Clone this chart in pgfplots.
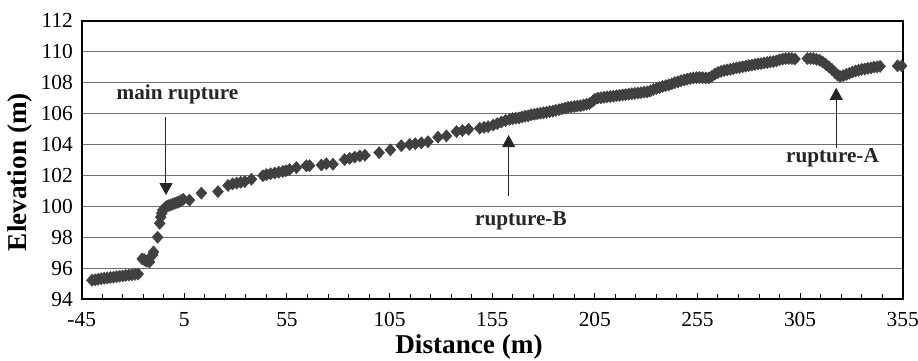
\documentclass[border=0pt]{standalone}
\usepackage{pgfplots}
\pgfplotsset{compat=1.18}
\usepackage{fontspec}
\setmainfont{Liberation Serif}
\usetikzlibrary{arrows.meta}
\definecolor{markgray}{HTML}{404040}
\definecolor{gridgray}{HTML}{707070}
\begin{document}
\begin{tikzpicture}
\begin{axis}[
  scale only axis,
  width=410.5pt, height=139.2pt,
  xmin=-45, xmax=355, ymin=94, ymax=112,
  xtick={-45,5,55,105,155,205,255,305,355},
  minor x tick num=4,
  ytick={94,96,...,112},
  tick align=inside,
  xtick pos=bottom,
  major tick length=3pt, minor tick length=2.5pt,
  ytick style={draw=none},
  xtick style={black, line width=0.5pt},
  ymajorgrids,
  major grid style={gridgray, line width=0.6pt},
  axis line style={black, line width=0.8pt},
  /pgf/number format/assume math mode=true,
  tick label style={font=\fontsize{10.7}{12}\selectfont},
  yticklabel style={inner sep=0pt, xshift=-4.2pt},
  xticklabel style={inner sep=0pt, yshift=-6.5pt},
  xlabel={Distance (m)},
  ylabel={Elevation (m)},
  label style={font=\fontsize{13.6}{16}\selectfont\bfseries},
  xlabel style={at={(axis description cs:0.4717,-0.126)}, anchor=north, inner sep=0pt},
  ylabel style={at={(axis description cs:-0.0752,0.456)}, anchor=center, inner sep=0pt},
  clip=false,
]
\addplot[only marks, mark=diamond*, mark size=3.05pt,
  mark options={xscale=1.2, fill=markgray, draw=markgray, line width=0.2pt}] table {
x y
-40 95.22
-38.5 95.25
-37 95.28
-35.5 95.32
-34 95.35
-32.5 95.37
-31 95.40
-29.5 95.42
-28 95.45
-26.5 95.48
-25 95.50
-23.5 95.53
-22 95.55
-20.5 95.58
-19 95.60
-17.5 95.62
-15.5 96.60
-14.5 96.55
-13.5 96.45
-12 96.40
-10.5 96.85
-10 97.05
-8 98.00
-7 98.90
-6.5 99.30
-6 99.55
-5.5 99.75
-4.5 99.90
-3.5 100.00
-2.5 100.05
-1.5 100.10
-0.5 100.15
0.5 100.20
1.5 100.25
2.5 100.30
3.5 100.38
4.5 100.45
7.5 100.40
13.3 100.85
21.4 100.95
26.3 101.35
28.5 101.45
30.5 101.50
32.5 101.55
34.5 101.60
37.7 101.75
43.3 101.98
45 102.05
47 102.10
49 102.15
51 102.20
53 102.25
54.5 102.30
56.3 102.38
59.6 102.50
64.4 102.62
66 102.63
71.8 102.67
74.2 102.75
77.4 102.72
83.1 103.02
85.6 103.10
88 103.18
90.5 103.25
93 103.30
99.9 103.47
105.4 103.65
110.7 103.92
114.8 104.00
117.5 104.05
120.5 104.10
123.7 104.18
128.6 104.47
132.7 104.55
137.6 104.83
140.5 104.90
143.5 104.98
148.9 105.05
151 105.10
153 105.15
155.5 105.25
157.5 105.35
159.5 105.45
161.5 105.55
163.5 105.62
165 105.67
166.5 105.70
168 105.72
169.5 105.78
171 105.82
172.5 105.85
174 105.92
175.5 105.95
177 105.98
178.5 106.02
180 106.05
181.5 106.08
183 106.12
184.5 106.15
186 106.20
187.5 106.25
189 106.30
190.5 106.35
192 106.40
193.5 106.42
195 106.45
196.5 106.48
198 106.50
199.5 106.55
201 106.60
202.5 106.65
204 106.80
205 106.92
206.5 107.00
208 107.02
209.5 107.05
211 107.08
212.5 107.10
214 107.12
215.5 107.15
217 107.17
218.5 107.20
220 107.22
221.5 107.25
223 107.28
224.5 107.30
226 107.32
227.5 107.35
229 107.38
230.5 107.40
232 107.45
233.5 107.55
235 107.62
236.5 107.68
238 107.75
239.5 107.80
241 107.85
242.5 107.92
244 108.00
245.5 108.05
247 108.12
248.5 108.17
250 108.22
251.5 108.27
253 108.30
254.5 108.32
256 108.33
257.5 108.32
259 108.30
260.5 108.30
262 108.40
263.5 108.55
265 108.65
266.5 108.72
268 108.78
269.5 108.82
271 108.86
272.5 108.90
274 108.95
275.5 108.98
277 109.02
278.5 109.06
280 109.10
281.5 109.13
283 109.17
284.5 109.20
286 109.23
287.5 109.27
289 109.30
290.5 109.33
292 109.36
293.5 109.40
295 109.47
296.5 109.52
298 109.55
299.5 109.56
301 109.55
302.5 109.52
308.5 109.55
310 109.56
311.5 109.55
313 109.50
314.5 109.45
316 109.33
317.5 109.18
319 109.02
320.5 108.85
322 108.65
323.3 108.48
324.5 108.40
326 108.45
327.5 108.52
329 108.60
330.5 108.68
332 108.75
333.5 108.80
335 108.85
336.5 108.88
338 108.92
339.5 108.95
341 109.00
342.5 109.02
344 109.05
352.5 109.08
354.5 109.08
};
\node[anchor=base, font=\fontsize{10.6}{12}\selectfont\bfseries, text=black!85] at (axis cs:1.67,106.88) {main rupture};
\draw[black!85, line width=0.5pt, -{Triangle[width=6.5pt,length=6pt]}] (axis cs:-3.93,105.78) -- (axis cs:-3.93,100.73);
\node[anchor=base, font=\fontsize{10.6}{12}\selectfont\bfseries, text=black!85] at (axis cs:169.0,98.74) {rupture-B};
\draw[black!85, line width=0.5pt, -{Triangle[width=6.5pt,length=6pt]}] (axis cs:163.0,100.67) -- (axis cs:163.0,104.61);
\node[anchor=base, font=\fontsize{10.6}{12}\selectfont\bfseries, text=black!85] at (axis cs:320.8,102.82) {rupture-A};
\draw[black!85, line width=0.5pt, -{Triangle[width=6.5pt,length=6pt]}] (axis cs:322.6,103.77) -- (axis cs:322.6,107.66);
\end{axis}
\pgfresetboundingbox
\path (current axis.south west) ++(-40.85pt,-30.5pt) coordinate (bbA);
\path (current axis.north east) ++(7.65pt,10.35pt) coordinate (bbB);
\useasboundingbox (bbA) rectangle (bbB);
\end{tikzpicture}
\end{document}
